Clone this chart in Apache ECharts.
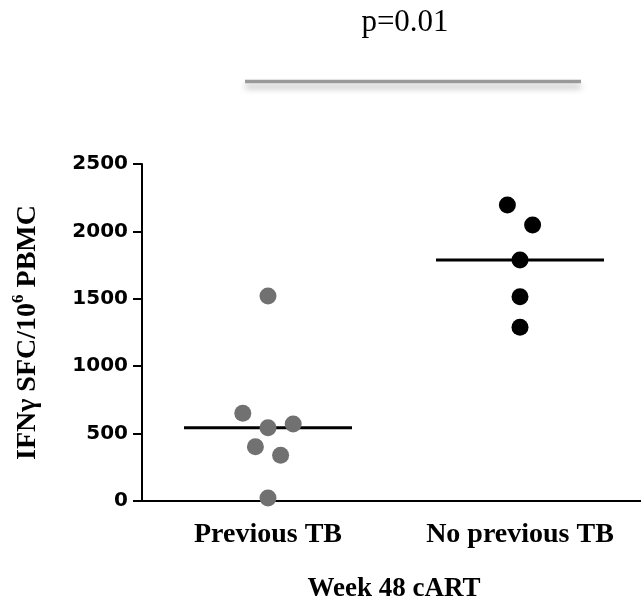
<!DOCTYPE html>
<html>
<head>
<meta charset="utf-8">
<script src="https://cdn.jsdelivr.net/npm/echarts@6/dist/echarts.min.js"></script>
<style>
  html, body { margin: 0; padding: 0; background: #fff; }
  #chart { width: 641px; height: 601px; }
</style>
</head>
<body>
<div id="chart"></div>
<script>
// IFN-gamma ELISpot responses at week 48 of cART
const groups = ['Previous TB', 'No previous TB'];
const previousTb = [1521, 651, 543, 571, 403, 339, 22];
const noPreviousTb = [2196, 2047, 1788, 1516, 1289];
const yTicks = [0, 500, 1000, 1500, 2000, 2500];
const pValueText = 'p=0.01';

// sideways spread of each dot inside its column (fraction of a column width)
const previousTbSpread = [0, -0.1, 0, 0.1, -0.05, 0.05, 0];
const noPreviousTbSpread = [-0.05, 0.05, 0, 0, 0];

function median(arr) {
  const s = arr.slice().sort((a, b) => a - b);
  const m = Math.floor(s.length / 2);
  return s.length % 2 ? s[m] : (s[m - 1] + s[m]) / 2;
}

function dots(values, spread, column) {
  return values.map((v, i) => [column + spread[i], v]);
}

const halfBar = 1 / 3;
function medianLine(values, column) {
  const m = median(values);
  return [[column - halfBar, m], [column + halfBar, m]];
}

const serifBold = { fontFamily: 'Liberation Serif', fontWeight: 'bold', color: '#000' };

const chart = echarts.init(document.getElementById('chart'), null, { renderer: 'canvas' });

chart.setOption({
  backgroundColor: '#fff',
  animation: false,
  grid: { left: 142, top: 164, height: 337, width: 504, outerBoundsMode: 'none', containLabel: false },
  xAxis: [
    {
      type: 'category',
      data: groups,
      boundaryGap: true,
      axisLine: { onZero: false, lineStyle: { color: '#000', width: 2 } },
      axisTick: { alignWithLabel: true, length: 7, lineStyle: { color: '#000', width: 2 } },
      axisLabel: Object.assign({ fontSize: 28, margin: 20 }, serifBold),
      name: 'Week 48 cART',
      nameLocation: 'middle',
      nameGap: 75,
      nameTextStyle: Object.assign({ fontSize: 27 }, serifBold),
      splitLine: { show: false }
    },
    {
      type: 'value',
      min: -0.5,
      max: 1.5,
      show: false
    }
  ],
  yAxis: {
    type: 'value',
    min: yTicks[0],
    max: yTicks[yTicks.length - 1],
    interval: yTicks[1] - yTicks[0],
    axisLine: { show: true, onZero: false, lineStyle: { color: '#000', width: 2 } },
    axisTick: { show: true, length: 9, lineStyle: { color: '#000', width: 2 } },
    axisLabel: {
      fontFamily: 'DejaVu Sans', fontWeight: 'bold', fontSize: 20, color: '#000', margin: 14,
      formatter: v => String(v)
    },
    splitLine: { show: false },
    name: '{t|IFNγ SFC/10}{s|6}{t| PBMC}',
    nameLocation: 'middle',
    nameRotate: 90,
    nameGap: 100,
    nameTextStyle: {
      rich: {
        t: Object.assign({ fontSize: 28, lineHeight: 32, verticalAlign: 'bottom' }, serifBold),
        s: Object.assign({ fontSize: 17, lineHeight: 32, verticalAlign: 'top' }, serifBold)
      }
    }
  },
  series: [
    {
      type: 'line',
      xAxisIndex: 1,
      data: medianLine(previousTb, 0),
      symbol: 'none',
      lineStyle: { color: '#000', width: 3 },
      z: 2
    },
    {
      type: 'line',
      xAxisIndex: 1,
      data: medianLine(noPreviousTb, 1),
      symbol: 'none',
      lineStyle: { color: '#000', width: 3 },
      z: 2
    },
    {
      type: 'scatter',
      xAxisIndex: 1,
      data: dots(previousTb, previousTbSpread, 0),
      symbolSize: 17,
      itemStyle: { color: '#717171', opacity: 1 },
      clip: false,
      z: 3
    },
    {
      type: 'scatter',
      xAxisIndex: 1,
      data: dots(noPreviousTb, noPreviousTbSpread, 1),
      symbolSize: 17,
      itemStyle: { color: '#000', opacity: 1 },
      clip: false,
      z: 3
    }
  ],
  graphic: [
    {
      type: 'text',
      x: 405,
      y: 23,
      style: {
        text: pValueText, fontFamily: 'Liberation Serif', fontSize: 31, fill: '#000',
        align: 'center', verticalAlign: 'middle'
      }
    },
    {
      type: 'line',
      shape: { x1: 245, y1: 81.5, x2: 581, y2: 81.5 },
      style: {
        stroke: '#9a9a9a',
        lineWidth: 3.5,
        shadowBlur: 6,
        shadowOffsetY: 5,
        shadowColor: 'rgba(0,0,0,0.3)'
      }
    }
  ]
});
</script>
</body>
</html>
